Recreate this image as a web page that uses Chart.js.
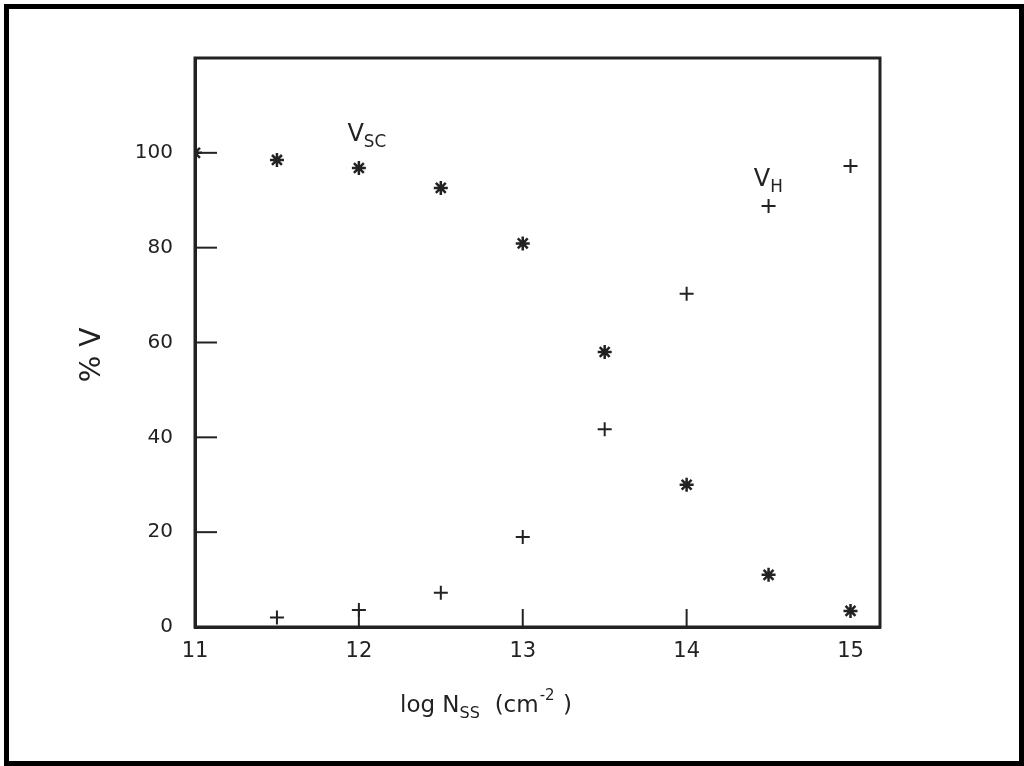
<!DOCTYPE html>
<html><head><meta charset="utf-8">
<script src="https://cdn.jsdelivr.net/npm/chart.js@4"></script>
<style>
html,body{margin:0;padding:0;background:#fff;}
#frame{position:absolute;left:4px;top:4px;width:1010px;height:752px;border:5px solid #000;}
#wrap{position:absolute;left:0;top:0;width:1024px;height:766px;}
</style></head><body>
<div id="frame"></div>
<div id="wrap"><canvas id="c" width="1024" height="766"></canvas></div>
<script>
const xValues = [11, 11.5, 12, 12.5, 13, 13.5, 14, 14.5, 15];
const vscValues = [100, 98.5, 96.8, 92.6, 80.9, 58, 30, 11, 3.4];
const vhX = [11.5, 12, 12.5, 13, 13.5, 14, 14.5, 15];
const vhValues = [2, 3.6, 7.2, 19, 41.7, 70.3, 88.8, 97.2];
const xTicks = [11, 12, 13, 14, 15];
const yTicks = [0, 20, 40, 60, 80, 100];
const ink = '#222';
const font = '"DejaVu Sans", sans-serif';

const labels = {
  id: 'labels',
  afterDraw(ch) {
    const c = ch.ctx, x = ch.scales.x, y = ch.scales.y;
    c.save(); c.fillStyle = ink; c.textBaseline = 'alphabetic';
    function sub(px, py, main, s, sz) {
      c.font = sz + 'px ' + font; c.textAlign = 'left';
      c.fillText(main, px, py);
      const w = c.measureText(main).width;
      c.font = (sz * 0.7) + 'px ' + font;
      c.fillText(s, px + w, py + 6);
      return px + w + c.measureText(s).width;
    }
    sub(x.getPixelForValue(11.93), y.getPixelForValue(102.5), 'V', 'SC', 24);
    sub(x.getPixelForValue(14.41), y.getPixelForValue(93), 'V', 'H', 24);
    // x title
    let e = sub(400, 712, 'log N', 'SS', 23);
    c.font = '23px ' + font; c.fillText('  (cm', e, 712);
    e += c.measureText('  (cm').width;
    c.font = '15px ' + font; c.fillText('-2', e + 1, 700);
    e += c.measureText('-2').width;
    c.font = '23px ' + font; c.fillText(' )', e + 2, 712);
    // y title
    c.translate(100, 355); c.rotate(-Math.PI / 2);
    c.font = '28px ' + font; c.textAlign = 'center';
    c.fillText('% V', 0, 0);
    c.restore();
  }
};

new Chart(document.getElementById('c'), {
  type: 'scatter',
  data: {
    datasets: [
      { label: 'VSC', data: xValues.map((v, i) => ({x: v, y: vscValues[i]})),
        pointStyle: 'star', radius: 7, borderColor: ink, borderWidth: 2.5, backgroundColor: ink },
      { label: 'VH', data: vhX.map((v, i) => ({x: v, y: vhValues[i]})),
        pointStyle: 'cross', radius: 7, borderColor: ink, borderWidth: 2, backgroundColor: ink }
    ]
  },
  options: {
    responsive: false, animation: false,
    layout: { padding: { left: 0, right: 144, top: 58, bottom: 0 } },
    plugins: { legend: { display: false }, tooltip: { enabled: false } },
    scales: {
      x: {
        type: 'linear', min: 11, max: 15.18,
        afterFit: s => { s.height = 139; },
        afterBuildTicks: s => { s.ticks = xTicks.map(v => ({value: v})); },
        grid: { display: false, drawTicks: false },
        border: { color: ink, width: 3 },
        ticks: { color: ink, font: { size: 21, family: font }, padding: 12 }
      },
      y: {
        min: 0, max: 120,
        afterFit: s => { s.width = 195; },
        afterBuildTicks: s => { s.ticks = yTicks.map(v => ({value: v})); },
        grid: { display: false, drawTicks: false },
        border: { color: ink, width: 3 },
        ticks: { color: ink, font: { size: 20, family: font }, padding: 22 }
      }
    }
  },
  plugins: [labels, {
    id: 'box',
    afterDraw(ch) {
      const c = ch.ctx, a = ch.chartArea, x = ch.scales.x, y = ch.scales.y;
      c.save(); c.strokeStyle = ink; c.lineWidth = 3;
      c.strokeRect(a.left, a.top, a.right - a.left, a.bottom - a.top);
      c.lineWidth = 2;
      xTicks.slice(1, 4).forEach(v => { const p = x.getPixelForValue(v);
        c.beginPath(); c.moveTo(p, a.bottom); c.lineTo(p, a.bottom - 18); c.stroke(); });
      yTicks.slice(1).forEach(v => { const p = y.getPixelForValue(v);
        c.beginPath(); c.moveTo(a.left, p); c.lineTo(a.left + 22, p); c.stroke(); });
      c.restore();
    }
  }]
});
</script></body></html>
